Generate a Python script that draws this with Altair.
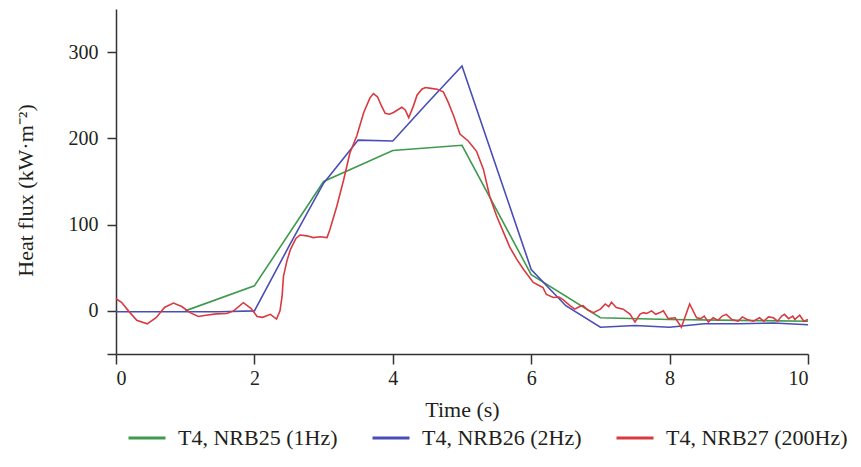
import altair as alt
import pandas as pd

# ---- data ----
series_names = ["T4, NRB25 (1Hz)", "T4, NRB26 (2Hz)", "T4, NRB27 (200Hz)"]
series_colors = ["#3f9a4e", "#4a4db5", "#d83a40"]

green_t = [1, 2, 3, 4, 5, 6, 7, 8, 9, 10]
green_v = [0, 29, 150, 186, 192, 42, -8, -10, -11, -12]

blue_t = [0, 0.5, 1, 1.5, 2, 2.5, 3, 3.5, 4, 4.5, 5, 5.5, 6, 6.5, 7, 7.5, 8, 8.5, 9, 9.5, 10]
blue_v = [-1, -1, -1, -1, 0, 75, 148, 198, 197, 241, 284, 166, 48, 6, -19, -17, -19, -15, -15, -14, -16]

red_t = [0.00, 0.08, 0.18, 0.30, 0.45, 0.58, 0.70, 0.83, 0.95, 1.07,
         1.19, 1.30, 1.45, 1.60, 1.70, 1.84, 1.95, 2.04, 2.12, 2.23,
         2.32, 2.37, 2.40, 2.42, 2.47, 2.52, 2.60, 2.66, 2.76, 2.85,
         2.95, 3.05, 3.09, 3.19, 3.29, 3.38, 3.48, 3.58, 3.67, 3.72,
         3.78, 3.84, 3.89, 3.95, 4.01, 4.13, 4.18, 4.23, 4.30, 4.35,
         4.42, 4.47, 4.55, 4.64, 4.73, 4.80, 4.88, 4.97, 5.09, 5.21,
         5.31, 5.40, 5.50, 5.60, 5.69, 5.79, 5.89, 6.03, 6.10, 6.17,
         6.22, 6.32, 6.40, 6.46, 6.56, 6.63, 6.70, 6.75, 6.82, 6.90,
         7.00, 7.07, 7.12, 7.16, 7.23, 7.33, 7.43, 7.50, 7.57, 7.62,
         7.67, 7.74, 7.80, 7.86, 7.91, 7.98, 8.08, 8.17, 8.29, 8.39,
         8.45, 8.50, 8.56, 8.63, 8.70, 8.76, 8.82, 8.90, 8.99, 9.05,
         9.12, 9.21, 9.30, 9.36, 9.43, 9.50, 9.56, 9.62, 9.66, 9.72,
         9.78, 9.81, 9.88, 9.94, 10.0]
red_v = [14, 10, 0, -11, -15, -8, 4, 9, 5, -2,
         -6.5, -5, -3.5, -3, 0, 9.5, 3, -6.5, -7.5, -4,
         -9.5, 0, 17, 40, 58, 71, 84, 88, 87, 85,
         86, 85, 94, 121, 152, 183, 203, 230, 247, 252,
         248, 237, 229, 228, 230, 236, 233, 224, 238, 250,
         257, 259, 258, 257, 254, 242, 226, 205, 197, 185,
         164, 133, 110, 91, 74, 60, 48, 33, 30, 27,
         19, 15.5, 16, 13, 6, 2, 5, 6, 1, -2,
         2, 8, 5, 10, 4, 2, -4, -13, -4, -2,
         -3, 0, -4, -2, 0, -9, -8, -19, 8, -8,
         -9, -6, -13, -8, -11, -6, -4, -10, -12, -7,
         -10, -12, -8, -12, -7, -8, -12, -6, -4, -9,
         -6, -10, -5, -12, -10]

x_ticks = [0, 2, 4, 6, 8, 10]
y_ticks = [-50, 0, 100, 200, 300]

rows = []
for name, ts, vs in zip(series_names, [green_t, blue_t, red_t], [green_v, blue_v, red_v]):
    for t, v in zip(ts, vs):
        rows.append({"t": t, "v": v, "series": name})
df = pd.DataFrame(rows)

FONT = "Liberation Serif"
TXT = "#231f20"

chart = alt.Chart(df).mark_line(strokeWidth=1.6).encode(
    x=alt.X("t:Q",
            scale=alt.Scale(domain=[0, 10], nice=False, zero=False),
            axis=alt.Axis(values=x_ticks, title="Time (s)", grid=False,
                          tickSize=10, labelPadding=4, labelFontSize=20,
                          titleFontSize=22, titleFontWeight="normal",
                          titleY=55, titleBaseline="middle")),
    y=alt.Y("v:Q",
            scale=alt.Scale(domain=[-50, 350], nice=False, zero=False),
            axis=alt.Axis(values=y_ticks, title="Heat flux (kW·m⁻²)", grid=False,
                          labelExpr="datum.value == -50 ? '' : datum.label",
                          tickSize=9, labelPadding=9, labelFontSize=20,
                          titleFontSize=22, titleFontWeight="normal",
                          titleAngle=-90, titleX=-91, titleY=181,
                          titleBaseline="middle", titleAlign="center")),
    color=alt.Color("series:N",
                    scale=alt.Scale(domain=series_names, range=series_colors),
                    sort=series_names,
                    legend=alt.Legend(title=None, orient="none", direction="horizontal",
                                      legendX=11, legendY=409,
                                      symbolType="stroke", symbolSize=1369,
                                      symbolStrokeWidth=3, labelFontSize=22,
                                      labelFont=FONT, labelColor=TXT,
                                      labelOffset=11, columnPadding=28,
                                      labelLimit=0, padding=0)),
).properties(
    width=692, height=345,
    padding={"left": 108, "top": 1, "right": 45, "bottom": 99},
    autosize=alt.AutoSizeParams(type="none"),
).configure_axis(
    labelFont=FONT, titleFont=FONT, labelColor=TXT, titleColor=TXT,
    domainColor="#333333", tickColor="#333333", domainWidth=1.5, tickWidth=1.5,
).configure_view(stroke=None)

chart.save("out.html", embed_options={"renderer": "svg", "actions": False})
